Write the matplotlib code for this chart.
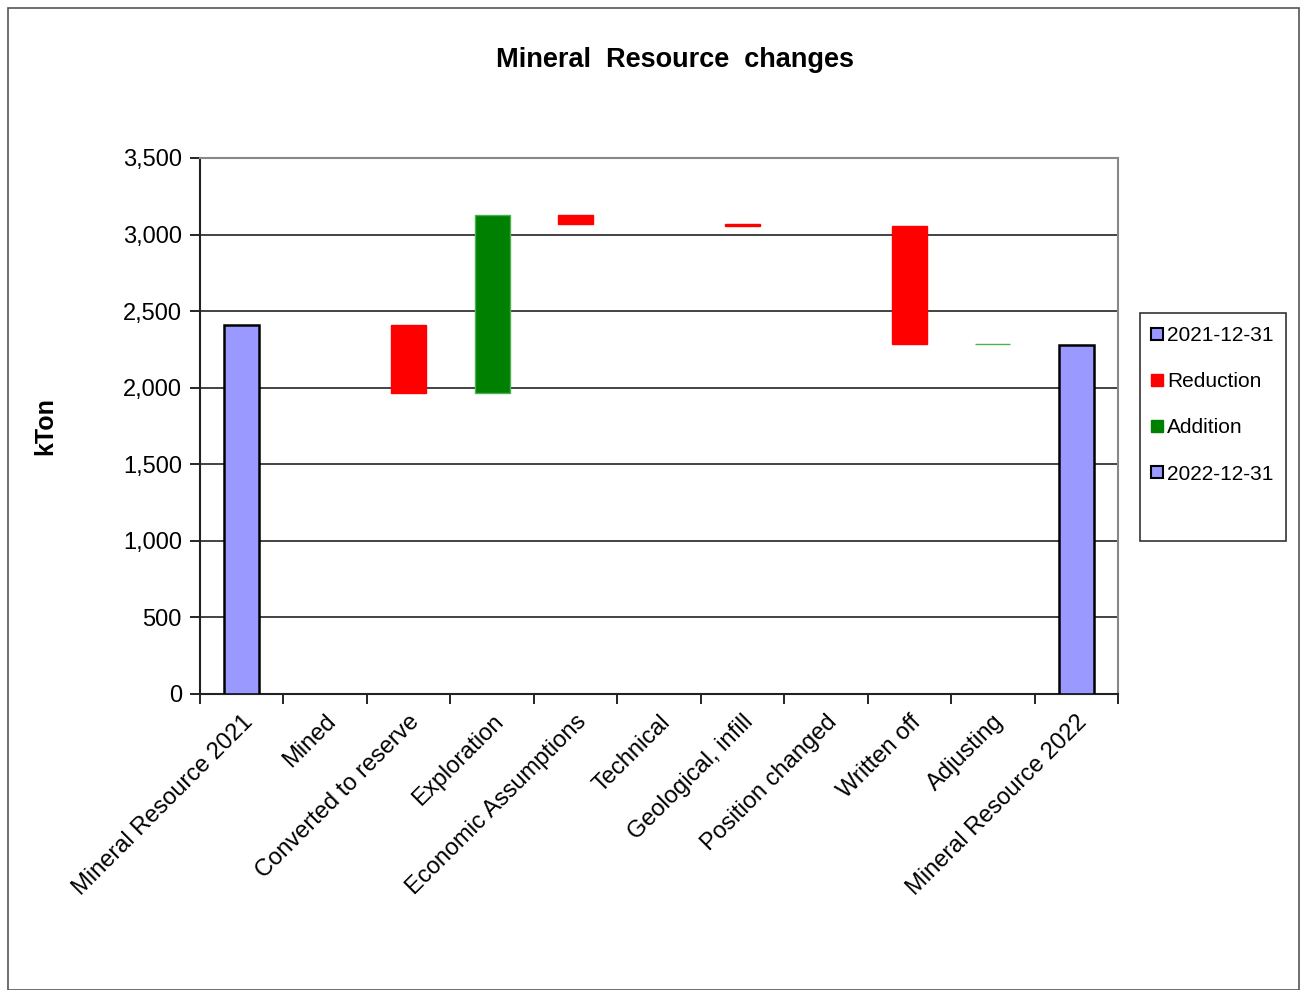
import numpy as np
import matplotlib.pyplot as plt
from matplotlib.patches import Patch, Rectangle

plt.rcParams['font.family'] = ['Liberation Sans', 'DejaVu Sans']

# Chart data (kTon)
categories = ['Mineral Resource 2021', 'Mined', 'Converted to reserve', 'Exploration',
              'Economic Assumptions', 'Technical', 'Geological, infill',
              'Position changed', 'Written off', 'Adjusting', 'Mineral Resource 2022']
start_value = 2410
changes = [0, -445, 1160, -58, 0, -14, 0, -770, 5]
end_value = 2280

purple = '#9999ff'
red = '#ff0000'
green = '#008000'

# build waterfall bottoms/heights
bottoms = [0]
heights = [start_value]
colors = [purple]
edges = ['black']
level = start_value
for c in changes:
    if c < 0:
        bottoms.append(level + c)
        heights.append(-c)
        colors.append(red)
        edges.append(red)
    else:
        bottoms.append(level)
        heights.append(c)
        colors.append(green)
        edges.append('#4caf50')
    level += c
bottoms.append(0)
heights.append(end_value)
colors.append(purple)
edges.append('black')

fig = plt.figure(figsize=(13.04, 9.9), dpi=100)
ax = fig.add_axes([200 / 1304, 1 - 694 / 990, 918 / 1304, 536 / 990])

x = np.arange(len(categories))
for i in range(len(x)):
    if heights[i] == 0:
        continue
    lw = 1.8 if colors[i] == purple else 1.0
    ax.bar(x[i], heights[i], bottom=bottoms[i], width=0.42, color=colors[i],
           edgecolor=edges[i], linewidth=lw, zorder=3)

ax.set_xlim(-0.5, len(categories) - 0.5)
ax.set_ylim(0, 3500)
ax.set_yticks(np.arange(0, 3501, 500))
ax.set_yticklabels([f'{v:,}' for v in range(0, 3501, 500)], fontsize=17)
ax.yaxis.grid(True, color='#222222', linewidth=1.2, zorder=1)

ax.set_xticks(np.arange(-0.5, len(categories), 1.0))
ax.set_xticklabels([])
ax.set_xticks(x, minor=True)
ax.set_xticklabels(categories, minor=True, rotation=45, ha='right',
                   rotation_mode='anchor', fontsize=17)
ax.tick_params(axis='x', which='minor', length=0, pad=12)
ax.tick_params(axis='x', which='major', length=7, width=1.2)
ax.tick_params(axis='y', length=7, width=1.2, pad=6)

for side in ['top', 'right']:
    ax.spines[side].set_color('#888888')
    ax.spines[side].set_linewidth(1.5)
for side in ['left', 'bottom']:
    ax.spines[side].set_color('#222222')
    ax.spines[side].set_linewidth(1.5)

ax.set_ylabel('kTon', fontsize=18, fontweight='bold')
ax.yaxis.set_label_coords(-0.155, 0.5)
fig.text(675 / 1304, 1 - 60 / 990, 'Mineral  Resource  changes', ha='center',
         va='center', fontsize=19.5, fontweight='bold')

handles = [Patch(facecolor=purple, edgecolor='black', linewidth=1.5, label='2021-12-31'),
           Patch(facecolor=red, edgecolor=red, label='Reduction'),
           Patch(facecolor=green, edgecolor=green, label='Addition'),
           Patch(facecolor=purple, edgecolor='black', linewidth=1.5, label='2022-12-31')]
leg = fig.legend(handles=handles, loc='upper left',
                 bbox_to_anchor=(1145 / 1304, 1 - 320 / 990), fontsize=15,
                 handlelength=0.55, handleheight=0.55, handletextpad=0.2,
                 labelspacing=1.3, borderpad=0.3, borderaxespad=0,
                 frameon=False)

# legend frame drawn as a box, as in the source chart
fig.patches.append(Rectangle((1140 / 1304, 1 - 541 / 990), 146 / 1304, 228 / 990,
                             transform=fig.transFigure, fill=False,
                             edgecolor='#333333', linewidth=1.2))

# outer border
fig.patches.append(Rectangle((8 / 1304, 0), 1291 / 1304, 1 - 8 / 990,
                             transform=fig.transFigure, fill=False,
                             edgecolor='#555555', linewidth=1.2))

fig.savefig('out.png', dpi=100)
